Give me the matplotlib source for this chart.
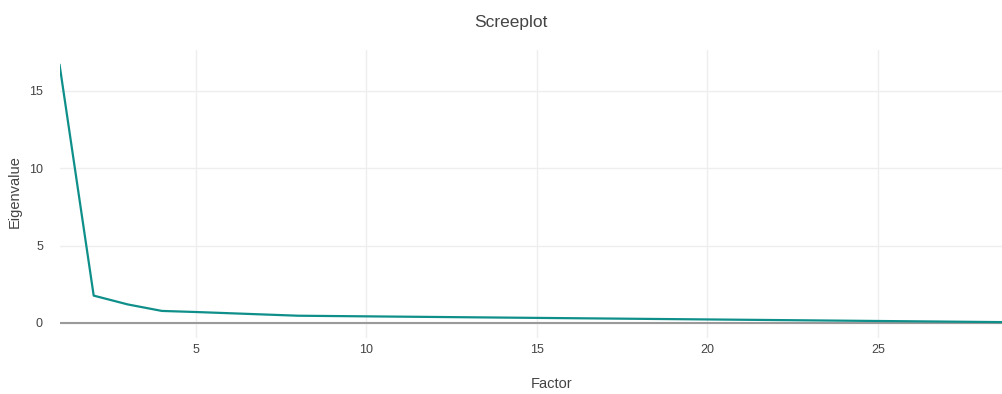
import matplotlib.pyplot as plt

plt.rcParams['font.family'] = ['Liberation Sans', 'DejaVu Sans']

factors = list(range(1, 30))
eigenvalues = [16.68, 1.77, 1.20, 0.78, 0.71, 0.63, 0.55, 0.47,
               0.45, 0.43, 0.41, 0.39, 0.37, 0.35, 0.33, 0.31, 0.29,
               0.27, 0.25, 0.23, 0.21, 0.19, 0.17, 0.15, 0.13, 0.11,
               0.09, 0.07, 0.05]
x_ticks = [5, 10, 15, 20, 25]
y_ticks = [0, 5, 10, 15]

fig = plt.figure(figsize=(10.03, 3.94), dpi=100)
ax = fig.add_axes([59.6 / 1003, 1 - 338 / 394, 1 - 59.6 / 1003, 288 / 394])

ax.plot(factors, eigenvalues, color="#0f8f8a", linewidth=1.6, zorder=3)
ax.axhline(0, color="#9a9a9a", linewidth=1.5, zorder=2)

ax.set_xlim(1, 28.67)
ax.set_ylim(-0.97, 17.65)
ax.set_xticks(x_ticks)
ax.set_yticks(y_ticks)
ax.grid(True, color="#eeeeee", linewidth=1)
ax.set_axisbelow(True)
ax.tick_params(length=0, labelsize=9, labelcolor="#444444")
ax.tick_params(axis="y", pad=12)
ax.tick_params(axis="x", pad=4)
for s in ax.spines.values():
    s.set_visible(False)

ax.set_xlabel("Factor", fontsize=10.5, color="#444444")
ax.set_ylabel("Eigenvalue", fontsize=10.5, color="#444444")
ax.xaxis.set_label_coords(0.521, -0.135)
ax.yaxis.set_label_coords(-0.040, 0.507)

fig.text(511 / 1003, 1 - 22 / 394, "Screeplot", ha="center", va="center",
         fontsize=12.5, color="#444444")

fig.savefig("out.png", dpi=100)
